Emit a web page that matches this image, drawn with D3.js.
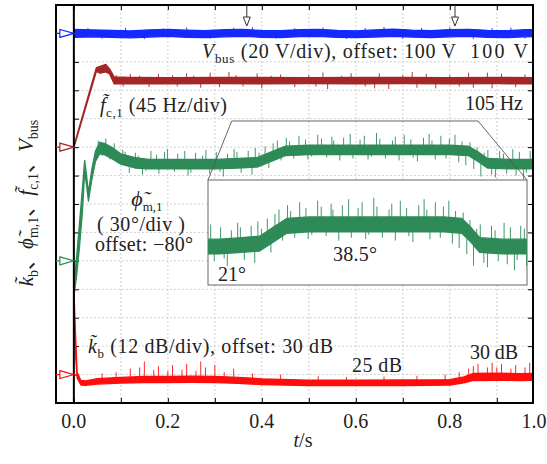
<!DOCTYPE html>
<html>
<head>
<meta charset="utf-8">
<script src="https://cdn.jsdelivr.net/npm/d3@7"></script>
<style>
  html, body { margin: 0; padding: 0; background: #fff; }
  svg { display: block; font-family: "Liberation Serif", "Noto Sans CJK SC", serif; }
</style>
</head>
<body>
<div id="chart"></div>
<script>
// ---- axis data ----
const tDomain = [-0.038, 0.977];          // visible time window (s)
const tTicks = [0.0, 0.1, 0.2, 0.3, 0.4, 0.5, 0.6, 0.7, 0.8, 0.9];
const tLabels = [0.0, 0.2, 0.4, 0.6, 0.8, 1.0];
const divCount = 14;                       // vertical divisions
const divTicks = [1, 2, 3, 4, 5, 6, 7, 8, 9, 10, 11, 12, 13];
const markerTimes = [0.368, 0.811];        // arrows on top edge

// ---- channel scaling: division of the reference arrow, value there, units per div ----
const vbusScale = { refDiv: 13, ref: 100, perDiv: 20 };
const fcScale   = { refDiv: 9,  ref: 0,   perDiv: 45 };
const phiScale  = { refDiv: 5,  ref: -80, perDiv: 30 };
const kbScale   = { refDiv: 1,  ref: 30,  perDiv: 12 };

// ---- traces: [t, low, high] envelope of the noisy band, spikes: [t, value] ----
const vbusBand = [
  [0.00, 97.2, 102.8], [0.04, 97.6, 102.4], [0.08, 97.2, 102.2], [0.12, 96.9, 101.8],
  [0.16, 97.4, 102.5], [0.20, 97.9, 102.9], [0.24, 97.3, 102.3], [0.28, 97.0, 101.9],
  [0.32, 97.6, 102.6], [0.36, 98.0, 102.8], [0.40, 97.3, 102.1], [0.44, 97.1, 101.9],
  [0.48, 97.7, 102.6], [0.52, 97.9, 102.9], [0.56, 97.2, 102.2], [0.60, 97.0, 101.8],
  [0.64, 97.5, 102.5], [0.68, 98.0, 103.0], [0.72, 97.4, 102.3], [0.76, 97.1, 101.9],
  [0.80, 97.6, 102.7], [0.84, 98.0, 102.9], [0.88, 97.3, 102.2], [0.92, 97.0, 101.9],
  [0.96, 97.6, 102.6], [0.99, 97.8, 102.8]
];
const vbusSpikes = [
  [0.03, 103.8], [0.06, 96.3], [0.11, 104.0], [0.15, 96.0], [0.19, 103.6], [0.24, 104.1],
  [0.29, 96.2], [0.34, 103.9], [0.38, 104.4], [0.43, 96.4], [0.47, 103.7], [0.53, 104.2],
  [0.58, 96.1], [0.62, 103.8], [0.66, 104.5], [0.70, 96.3], [0.74, 103.9], [0.80, 104.3],
  [0.85, 96.2], [0.89, 103.7], [0.93, 104.1], [0.96, 96.4]
];

const fcBand = [
  [0.000, -1, 2], [0.048, 120, 126], [0.056, 117, 128], [0.068, 119, 131], [0.076, 116, 124],
  [0.086, 100, 111], [0.12, 100.5, 110.5], [0.20, 100, 110], [0.30, 100.5, 110.5],
  [0.40, 100, 110.5], [0.50, 100.5, 110], [0.60, 100, 110.5], [0.70, 100.5, 110.5],
  [0.80, 100, 110], [0.90, 100.5, 110.5], [0.99, 100, 110]
];
const fcSpikes = [
  [0.09, 114], [0.105, 96], [0.12, 116], [0.14, 113], [0.16, 95], [0.18, 116], [0.21, 114],
  [0.22, 96], [0.24, 117], [0.255, 113], [0.27, 94], [0.29, 118], [0.31, 95], [0.33, 119],
  [0.345, 114], [0.36, 96], [0.39, 117], [0.40, 93], [0.42, 113], [0.44, 115], [0.47, 95],
  [0.50, 114], [0.515, 96], [0.53, 118], [0.54, 92], [0.57, 113], [0.59, 117], [0.62, 96],
  [0.64, 93], [0.65, 117], [0.67, 92], [0.70, 114], [0.72, 119], [0.73, 94], [0.75, 116],
  [0.77, 93], [0.80, 114], [0.82, 96], [0.84, 118], [0.85, 94], [0.88, 118], [0.89, 93],
  [0.91, 116], [0.94, 95], [0.96, 115]
];

const phiBand = [
  [0.000, -118, -104], [0.006, -95, -75], [0.012, -65, -40], [0.018, -30, -5],
  [0.023, 14, 26], [0.027, 0, 10], [0.031, -17, -8], [0.038, 5, 16], [0.046, 25, 36],
  [0.055, 33, 45], [0.065, 32, 44], [0.080, 28, 40], [0.100, 22, 33], [0.13, 18, 29],
  [0.16, 17, 27], [0.20, 17, 27], [0.25, 17, 27], [0.30, 17, 27], [0.35, 18, 28],
  [0.39, 19, 29], [0.42, 25, 35], [0.45, 31, 41], [0.50, 32, 42], [0.60, 32, 42],
  [0.70, 32, 42], [0.80, 32, 42], [0.84, 31, 41], [0.86, 25, 35], [0.88, 18, 28],
  [0.93, 17, 27], [0.99, 17, 27]
];
const phiSpikes = [
  [0.052, 47], [0.061, 31], [0.068, 49], [0.077, 27], [0.086, 44], [0.094, 23],
  [0.104, 37], [0.109, 35], [0.118, 13], [0.131, 34], [0.137, 31], [0.146, 11], [0.153, 15],
  [0.164, 36], [0.176, 32], [0.181, 12], [0.193, 35], [0.199, 38], [0.214, 14], [0.221, 33],
  [0.236, 36], [0.243, 10], [0.249, 13], [0.259, 34], [0.274, 31], [0.281, 37], [0.289, 12],
  [0.303, 35], [0.311, 14], [0.318, 9], [0.327, 33], [0.341, 38], [0.347, 35], [0.356, 13],
  [0.371, 36], [0.379, 11], [0.386, 39], [0.394, 34], [0.407, 41], [0.415, 18], [0.424, 44],
  [0.433, 47], [0.441, 26], [0.452, 50], [0.459, 46], [0.468, 28], [0.479, 52], [0.493, 48],
  [0.498, 27], [0.506, 30], [0.519, 53], [0.527, 49], [0.538, 29], [0.549, 51], [0.553, 47],
  [0.566, 26], [0.574, 50], [0.588, 54], [0.594, 28], [0.609, 48], [0.618, 52], [0.626, 27],
  [0.633, 30], [0.644, 55], [0.651, 49], [0.663, 28], [0.678, 47], [0.684, 51], [0.692, 26],
  [0.703, 53], [0.717, 48], [0.722, 29], [0.731, 25], [0.744, 50], [0.756, 54], [0.762, 47],
  [0.769, 27], [0.781, 52], [0.792, 28], [0.799, 49], [0.811, 53], [0.819, 24], [0.826, 46],
  [0.834, 21], [0.843, 45], [0.851, 17], [0.858, 40], [0.866, 9], [0.873, 34], [0.881, 37],
  [0.889, 11], [0.897, 8], [0.906, 36], [0.914, 33], [0.921, 12], [0.934, 38], [0.941, 10],
  [0.948, 35], [0.957, 6], [0.963, 13], [0.971, 36], [0.979, 34], [0.984, 9]
];

const kbBand = [
  [0.000, 63, 67], [0.003, 40, 50], [0.007, 28.5, 31], [0.015, 25.6, 27.5],
  [0.025, 25.5, 27.3], [0.05, 26.0, 28.3], [0.10, 26.4, 28.8], [0.15, 26.6, 29.2],
  [0.20, 26.6, 29.2], [0.25, 26.7, 29.3], [0.30, 26.6, 29.2], [0.35, 26.3, 28.8],
  [0.40, 25.8, 28.2], [0.50, 25.3, 27.6], [0.60, 25.3, 27.6], [0.70, 25.3, 27.7],
  [0.75, 25.4, 27.7], [0.80, 25.6, 27.9], [0.83, 26.5, 29.0], [0.85, 27.5, 30.5],
  [0.90, 27.6, 30.6], [0.95, 27.5, 30.4], [0.99, 27.6, 30.6]
];
const kbSpikes = [
  [0.06, 30.5], [0.09, 31], [0.12, 32.5], [0.14, 33], [0.15, 35.5], [0.17, 32],
  [0.18, 33.5], [0.20, 31.5], [0.21, 34], [0.23, 32], [0.24, 34.5], [0.26, 31.5],
  [0.27, 35.5], [0.28, 33], [0.30, 34], [0.32, 31], [0.34, 32.5], [0.38, 30.5],
  [0.44, 30], [0.52, 29.3], [0.58, 29], [0.66, 29.2], [0.73, 29.5], [0.79, 30],
  [0.82, 31], [0.84, 32.5], [0.85, 33.5], [0.86, 34.5], [0.88, 33], [0.89, 35],
  [0.90, 33], [0.91, 34.5], [0.93, 32.5], [0.94, 34], [0.96, 33], [0.97, 35]
];

// zoomed window (phase) and inset view
const zoomWindow = { t0: 0.336, t1: 0.86, phiTop: 67.6 };
const insetT = [0.275, 0.985];
const insetPhi = [-4, 67];

// ---- layout ----
const W = 547, H = 464;
const frame = { left: 56, right: 533, top: 5, bottom: 403 };
const inset = { left: 208, right: 527, top: 180, bottom: 285 };
const colors = { vbus: "#1428ff", fc: "#a52626", phi: "#2e8b57", kb: "#ff0d0d" };

const svg = d3.select("#chart").append("svg")
  .attr("width", W).attr("height", H);

const x = d3.scaleLinear().domain(tDomain).range([frame.left, frame.right]);
const yDiv = d3.scaleLinear().domain([0, divCount]).range([frame.bottom, frame.top]);
const chY = ch => v => yDiv(ch.refDiv + (v - ch.ref) / ch.perDiv);

svg.append("clipPath").attr("id", "plotClip").append("rect")
  .attr("x", frame.left).attr("y", frame.top)
  .attr("width", frame.right - frame.left).attr("height", frame.bottom - frame.top);
svg.append("clipPath").attr("id", "insetClip").append("rect")
  .attr("x", inset.left).attr("y", inset.top)
  .attr("width", inset.right - inset.left).attr("height", inset.bottom - inset.top);

// grid
const grid = svg.append("g").attr("stroke", "#cfcfcf").attr("stroke-width", 1)
  .attr("stroke-dasharray", "2,2");
grid.selectAll(".vg").data(tTicks.filter(d => d > 0)).join("line")
  .attr("x1", d => x(d)).attr("x2", d => x(d))
  .attr("y1", frame.top).attr("y2", frame.bottom);
grid.selectAll(".hg").data(divTicks).join("line")
  .attr("x1", x(0)).attr("x2", frame.right)
  .attr("y1", d => yDiv(d)).attr("y2", d => yDiv(d));

// ticks (inward)
svg.append("g").attr("transform", `translate(0,${frame.bottom})`)
  .call(d3.axisBottom(x).tickValues(tTicks).tickSize(-5).tickFormat(""))
  .call(g => g.select(".domain").remove());
svg.append("g").attr("transform", `translate(0,${frame.top})`)
  .call(d3.axisTop(x).tickValues(tTicks).tickSize(-5).tickFormat(""))
  .call(g => g.select(".domain").remove());
svg.append("g").attr("transform", `translate(${x(0)},0)`)
  .call(d3.axisLeft(yDiv).tickValues(divTicks).tickSize(-5).tickFormat(""))
  .call(g => g.select(".domain").remove());
svg.append("g").attr("transform", `translate(${frame.right},0)`)
  .call(d3.axisRight(yDiv).tickValues(divTicks).tickSize(-5).tickFormat(""))
  .call(g => g.select(".domain").remove());

// tick labels (the last one is squeezed in at the right edge as in the original)
svg.append("g").selectAll("text").data(tLabels).join("text")
  .attr("x", d => Math.min(x(d), W - 13)).attr("y", 428)
  .attr("text-anchor", "middle").attr("font-size", 20).attr("fill", "#222")
  .text(d => d3.format(".1f")(d));

function centerAt(rows, t) {
  const i = Math.max(1, Math.min(rows.length - 1, d3.bisector(d => d[0]).left(rows, t)));
  const a = rows[i - 1], b = rows[i];
  const k = (t - a[0]) / (b[0] - a[0]);
  return ((a[1] + a[2]) / 2) * (1 - k) + ((b[1] + b[2]) / 2) * k;
}

function drawTrace(g, rows, spikes, xs, ys, color) {
  g.append("path").datum(rows)
    .attr("d", d3.area().x(d => xs(d[0])).y0(d => ys(d[1])).y1(d => ys(d[2])))
    .attr("fill", color).attr("stroke", color).attr("stroke-width", 1.3)
    .attr("stroke-linejoin", "round");
  g.selectAll(null).data(spikes).join("line")
    .attr("x1", d => xs(d[0])).attr("x2", d => xs(d[0]))
    .attr("y1", d => ys(centerAt(rows, d[0]))).attr("y2", d => ys(d[1]))
    .attr("stroke", color).attr("stroke-width", 0.9);
}

const plot = svg.append("g").attr("clip-path", "url(#plotClip)");
const xPlot = t => x(Math.max(0, t));
drawTrace(plot, vbusBand, vbusSpikes, xPlot, chY(vbusScale), colors.vbus);
drawTrace(plot, fcBand, fcSpikes, xPlot, chY(fcScale), colors.fc);
drawTrace(plot, phiBand, phiSpikes, xPlot, chY(phiScale), colors.phi);
drawTrace(plot, kbBand, kbSpikes, xPlot, chY(kbScale), colors.kb);

// inset with zoomed phase
const phiY = chY(phiScale);
const ix = d3.scaleLinear().domain(insetT).range([inset.left, inset.right]);
const iy = d3.scaleLinear().domain(insetPhi).range([inset.bottom, inset.top]);
svg.append("path")
  .attr("d", `M${inset.left},${inset.top}L${x(zoomWindow.t0)},${phiY(zoomWindow.phiTop)}` +
    `L${x(zoomWindow.t1)},${phiY(zoomWindow.phiTop)}L${inset.right},${inset.top}`)
  .attr("fill", "none").attr("stroke", "#555").attr("stroke-width", 0.9);
svg.append("rect")
  .attr("x", inset.left).attr("y", inset.top)
  .attr("width", inset.right - inset.left).attr("height", inset.bottom - inset.top)
  .attr("fill", "#fff").attr("stroke", "#666").attr("stroke-width", 1);
const insetG = svg.append("g").attr("clip-path", "url(#insetClip)");
drawTrace(insetG, phiBand.filter(d => d[0] >= 0.2), phiSpikes.filter(d => d[0] >= 0.25),
  ix, iy, colors.phi);

// frame and t = 0 line
svg.append("rect")
  .attr("x", frame.left).attr("y", frame.top)
  .attr("width", frame.right - frame.left).attr("height", frame.bottom - frame.top)
  .attr("fill", "none").attr("stroke", "#000").attr("stroke-width", 2);
svg.append("line")
  .attr("x1", x(0)).attr("x2", x(0)).attr("y1", frame.top).attr("y2", frame.bottom)
  .attr("stroke", "#000").attr("stroke-width", 2);

// reference arrows on the left
const refs = [
  [vbusScale, colors.vbus], [fcScale, colors.fc], [phiScale, colors.phi], [kbScale, colors.kb]
];
refs.forEach(([ch, c]) => {
  const yy = yDiv(ch.refDiv), tip = x(0);
  svg.append("path")
    .attr("d", `M${frame.left},${yy}L${tip - 14},${yy}M${tip},${yy}L${tip - 14},${yy - 4}L${tip - 14},${yy + 4}Z`)
    .attr("fill", "#fff").attr("stroke", c).attr("stroke-width", 1.2);
});

// markers on the top edge
markerTimes.forEach(t => {
  const xx = x(t);
  svg.append("path")
    .attr("d", `M${xx},${frame.top}L${xx},${frame.top + 12}M${xx},${frame.top + 21}L${xx - 3.5},${frame.top + 12}L${xx + 3.5},${frame.top + 12}Z`)
    .attr("fill", "#fff").attr("stroke", "#333").attr("stroke-width", 1);
});

// ---- text ----
function rich(x0, y0, parts, opts = {}) {
  const size = opts.size || 20, sub = opts.sub || 13;
  const t = svg.append("text").attr("x", x0).attr("y", y0)
    .attr("font-size", size).attr("fill", "#222")
    .attr("text-anchor", opts.anchor || "start");
  if (opts.transform) t.attr("transform", opts.transform).attr("x", 0).attr("y", 0);
  if (opts.len) t.attr("textLength", opts.len).attr("lengthAdjust", "spacing");
  parts.forEach(p => {
    const s = t.append("tspan").text(p.t);
    if (p.it) s.attr("font-style", "italic");
    if (p.big) s.attr("font-size", p.big);
    if (p.sub) s.attr("font-size", sub).attr("dy", sub * 0.35);
    if (p.after) s.attr("dy", -sub * 0.35);
  });
  return t;
}

rich(202, 58, [{ t: "V", it: true }, { t: "bus", sub: true }, { t: " (20 V/div), offset: 100 V", after: true }], { len: 254 });
rich(470, 58, [{ t: "100 V" }], { len: 58 });
rich(100, 112, [{ t: "f\u0303", it: true }, { t: "c,1", sub: true }, { t: " (45 Hz/div)", after: true }], { len: 127 });
rich(465, 110, [{ t: "105 Hz" }], { len: 58 });
rich(147, 206, [{ t: "\u03d5\u0303", it: true, big: 22 }, { t: "m,1", sub: true }], { anchor: "middle" });
rich(97, 231, [{ t: "( 30°/div )" }], { len: 88 });
rich(95, 251, [{ t: "offset: −80°" }], { len: 98 });
rich(218, 281, [{ t: "21°" }]);
rich(333, 261, [{ t: "38.5°" }], { len: 44 });
rich(88, 353, [{ t: "k\u0303", it: true }, { t: "b", sub: true }, { t: " (12 dB/div), offset: 30 dB", after: true }], { len: 245 });
rich(352, 372, [{ t: "25 dB" }], { len: 50 });
rich(470, 359, [{ t: "30 dB" }], { len: 48 });
rich(303, 447, [{ t: "t", it: true }, { t: "/s" }], { anchor: "middle" });
rich(0, 0, [
  { t: "k\u0303", it: true }, { t: "b", sub: true }, { t: "、", after: true },
  { t: "\u03d5\u0303", it: true }, { t: "m,1", sub: true }, { t: "、", after: true },
  { t: "f\u0303", it: true }, { t: "c,1", sub: true }, { t: "、", after: true },
  { t: "V", it: true }, { t: "bus", sub: true }
], { anchor: "middle", transform: "translate(33,203) rotate(-90)", size: 21, sub: 14 });
</script>
</body>
</html>
